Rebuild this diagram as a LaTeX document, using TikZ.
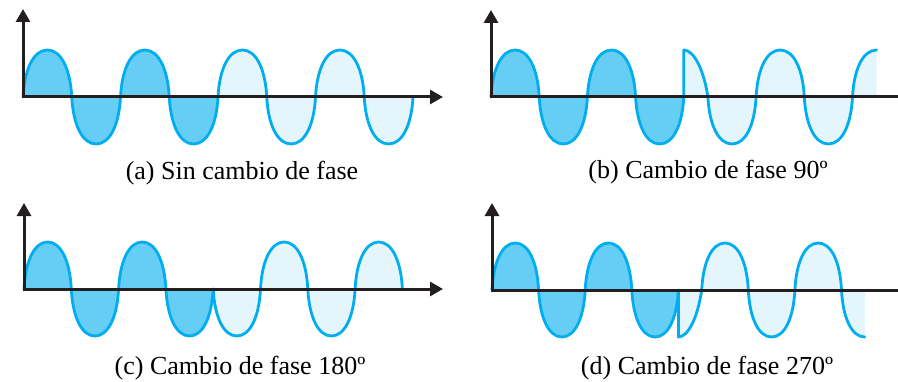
\documentclass[tikz,border=0pt]{standalone}
\usepackage{fontspec}
\setmainfont{Liberation Serif}
\usetikzlibrary{arrows.meta}

\definecolor{azul}{RGB}{0,174,239}
\definecolor{azulosc}{RGB}{102,206,245}
\definecolor{azulcla}{RGB}{229,245,252}
\definecolor{eje}{RGB}{35,31,32}

% medio lobulo: inicio, signo, relleno
\newcommand{\lobulo}[3]{%
  \filldraw[onda,fill=#3] ({#1},0) .. controls ({#1+0.03*\h},{#2*0.6*\A}) and ({#1+0.22*\h},{#2*\A}) .. ({#1+0.5*\h},{#2*\A})
    .. controls ({#1+0.78*\h},{#2*\A}) and ({#1+0.97*\h},{#2*0.6*\A}) .. ({#1+\h},0);}
% salto vertical y cuarto de onda hasta el eje
\newcommand{\caida}[3]{%
  \filldraw[onda,fill=#3] ({#1},0) -- ({#1},{#2*\A})
    .. controls ({#1+0.22*\h},{#2*\A}) and ({#1+0.42*\h},{#2*0.55*\A}) .. ({#1+0.5*\h},0);}
% cuarto de onda final, del eje al maximo
\newcommand{\final}[3]{%
  \fill[#3] ({#1},0) .. controls ({#1+0.03*\h},{#2*0.6*\A}) and ({#1+0.22*\h},{#2*\A}) .. ({#1+0.5*\h},{#2*\A}) -- ({#1+0.5*\h},0) -- cycle;
  \draw[onda] ({#1},0) .. controls ({#1+0.03*\h},{#2*0.6*\A}) and ({#1+0.22*\h},{#2*\A}) .. ({#1+0.5*\h},{#2*\A});}

\begin{document}
\begin{tikzpicture}[x=1pt,y=1pt,
  onda/.style={draw=azul,line width=2.8pt,line cap=round,line join=round},
  ejes/.style={draw=eje,line width=3pt},
  punta/.tip={Triangle[length=13pt,width=14pt]},
  pie/.style={font=\fontsize{26}{30}\selectfont}]
  \useasboundingbox (0,0) rectangle (898,381);
  \def\A{47}

  % (a) sin cambio de fase
  \begin{scope}[shift={(23,284)}]
    \def\h{48.75}
    \foreach \i [evaluate=\i as \s using {1-2*mod(\i,2)}] in {0,...,3} \lobulo{\i*\h}{\s}{azulosc};
    \foreach \i [evaluate=\i as \s using {1-2*mod(\i,2)}] in {4,...,7} \lobulo{\i*\h}{\s}{azulcla};
    \draw[ejes,punta-punta] (0,88) -- (0,0) -- (420,0);
  \end{scope}
  \node[pie] (capa) at (242,208) {(a) Sin cambio de fase};

  % (b) cambio de fase 90
  \begin{scope}[shift={(491,284)}]
    \def\h{48.2}
    \foreach \i [evaluate=\i as \s using {1-2*mod(\i,2)}] in {0,...,3} \lobulo{\i*\h}{\s}{azulosc};
    \caida{4*\h}{1}{azulcla}
    \foreach \i [evaluate=\i as \s using {2*mod(\i,2)-1}] in {0,...,2} \lobulo{4.5*\h+\i*\h}{\s}{azulcla};
    \final{7.5*\h}{1}{azulcla}
    \draw[ejes,punta-] (0,87) -- (0,0) -- (408,0);
  \end{scope}
  \node[pie] (capb) at (708,209) {(b) Cambio de fase 90º};

  % (c) cambio de fase 180
  \begin{scope}[shift={(24,92)}]
    \def\h{47.3}
    \foreach \i [evaluate=\i as \s using {1-2*mod(\i,2)}] in {0,...,3} \lobulo{\i*\h}{\s}{azulosc};
    \foreach \i [evaluate=\i as \s using {2*mod(\i,2)-1}] in {4,...,7} \lobulo{\i*\h}{\s}{azulcla};
    \draw[ejes,punta-punta] (0,86) -- (0,0) -- (419,0);
  \end{scope}
  \node[pie] (capc) at (240,13) {(c) Cambio de fase 180º};

  % (d) cambio de fase 270
  \begin{scope}[shift={(492,91)}]
    \def\h{46.6}
    \foreach \i [evaluate=\i as \s using {1-2*mod(\i,2)}] in {0,...,3} \lobulo{\i*\h}{\s}{azulosc};
    \caida{4*\h}{-1}{azulcla}
    \foreach \i [evaluate=\i as \s using {1-2*mod(\i,2)}] in {0,...,2} \lobulo{4.5*\h+\i*\h}{\s}{azulcla};
    \final{7.5*\h}{-1}{azulcla}
    \draw[ejes,punta-] (0,87) -- (0,0) -- (407,0);
  \end{scope}
  \node[pie] (capd) at (707,13) {(d) Cambio de fase 270º};
\end{tikzpicture}
\end{document}
